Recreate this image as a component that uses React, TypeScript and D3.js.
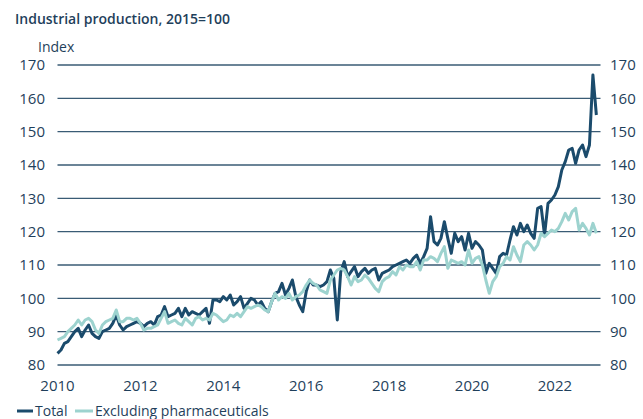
import React from "react";
import * as d3 from "d3";

const title = "Industrial production, 2015=100";
const yAxisLabel = "Index";
const startYear = 2010;
const seriesNames = ["Total", "Excluding pharmaceuticals"];
const yTicks = [80, 90, 100, 110, 120, 130, 140, 150, 160, 170];
const xTicks = [2010, 2012, 2014, 2016, 2018, 2020, 2022];

// Monthly values, Jan 2010 .. Jan 2023
const totalValues = [
  83.5, 84.5, 86.5, 87, 88.5, 90, 91, 88.5, 90.5, 92, 89.5, 88.5,
  88, 90, 90.5, 91, 92.5, 95, 92, 90.5, 91.5, 92, 92.5, 93,
  92.5, 91.5, 92.5, 93, 92, 94.5, 95, 97.5, 94.5, 95, 95.5, 97,
  94.5, 97, 95, 96, 95.5, 95, 96, 97, 92.5, 99.5, 99.5, 99,
  100.5, 99.5, 101, 98, 99, 100.5, 97, 98.5, 100, 99.5, 98, 99,
  97, 96, 99, 101.5, 102, 104.5, 101, 103, 105.5, 100.5, 98, 96,
  102, 105.5, 104, 104, 103.5, 104, 105, 108.5, 106, 93.5, 108, 111,
  106.5, 108, 109.5, 106.5, 108, 109, 107.5, 108.5, 109, 105.5, 107.5, 108,
  108.5, 109.5, 110, 110.5, 111, 111.5, 110.5, 112, 113, 110.5, 112.5, 115,
  124.5, 117, 116, 118, 123, 118, 113.5, 119.5, 117, 118.5, 114.5, 119.5,
  115, 117, 116, 114.5, 107.5, 110.5, 109, 107.5, 112.5, 113.5, 113, 117.5,
  121.5, 119, 122.5, 120, 122, 119.5, 118, 127, 127.5, 119, 128.5, 129.5,
  131, 133.5, 138.5, 141, 144.5, 145, 140.5, 144.5, 146, 142.5, 146, 167,
  155,
];

const exclPharmaValues = [
  87.5, 88, 88.5, 90, 91, 92, 93.5, 92, 93.5, 94, 93, 90.5,
  89.5, 92, 93, 93.5, 94, 96.5, 93, 93, 94, 94, 93.5, 94,
  92.5, 90.5, 91, 91, 91.5, 92, 94, 96, 92.5, 93, 93.5, 92.5,
  92, 94, 93, 92, 94, 94.5, 93.5, 94, 93.5, 95.5, 95, 94,
  93, 93.5, 95, 94.5, 95.5, 94.5, 96, 97.5, 97, 97.5, 98, 97.5,
  96.5, 96, 99, 101.5, 99.5, 100.5, 100, 101.5, 99.5, 100.5, 101, 102,
  104, 105.5, 104.5, 104, 102.5, 102, 101.5, 105.5, 107, 108.5, 109, 108.5,
  106.5, 104, 106.5, 105, 105.5, 107, 106, 104.5, 103, 102, 105, 106,
  106.5, 108, 107, 109.5, 108.5, 110, 109.5, 109.5, 111, 108.5, 111.5, 111.5,
  112.5, 112, 111, 113.5, 115.5, 109, 111.5, 111, 110.5, 111, 110, 114.5,
  110.5, 112, 112.5, 110, 105.5, 101.5, 105, 106.5, 109.5, 110.5, 112.5, 111.5,
  115.5, 113, 111, 116, 117, 116, 114.5, 116, 119.5, 118.5, 119.5, 120.5,
  120, 121, 123, 125.5, 123.5, 126, 127, 120.5, 122.5, 121, 119, 122.5,
  119.5,
];

const W = 643;
const H = 419;
const TEXT = "#1f3f5b";
const DARK = "#1b4b6c";
const LIGHT = "#9dd3cf";
const GRID = "#3a5b75";
const FONT = "'Open Sans', sans-serif";

export default function App() {
  const x = d3.scaleLinear().domain([2010, 2023.1]).range([57.5, 600.5]);
  const y = d3.scaleLinear().domain([80, 170]).range([365, 65]);

  const line = d3
    .line<number>()
    .x((_, i) => x(startYear + i / 12))
    .y((d) => y(d))
    .curve(d3.curveLinear);

  const series = [
    { name: seriesNames[0], values: totalValues, color: DARK },
    { name: seriesNames[1], values: exclPharmaValues, color: LIGHT },
  ];

  return (
    <svg
      width={W}
      height={H}
      style={{ position: "absolute", left: 0, top: 0, background: "#fff" }}
      fontFamily={FONT}
    >
      <text x={15} y={24} fontSize={14} fontWeight={600} fill={TEXT}>
        {title}
      </text>
      <text x={38} y={52} fontSize={14} fill={TEXT}>
        {yAxisLabel}
      </text>
      {yTicks.map((t) => (
        <g key={t}>
          <line
            x1={x.range()[0]}
            x2={x.range()[1]}
            y1={y(t)}
            y2={y(t)}
            stroke={GRID}
            strokeWidth={1.3}
          />
          <text
            x={45}
            y={y(t)}
            dy="0.36em"
            textAnchor="end"
            fontSize={15}
            fill={TEXT}
          >
            {t}
          </text>
          <text x={610} y={y(t)} dy="0.36em" fontSize={15} fill={TEXT}>
            {t}
          </text>
        </g>
      ))}
      {xTicks.map((t) => (
        <text
          key={t}
          x={x(t)}
          y={391}
          textAnchor="middle"
          fontSize={15}
          fill={TEXT}
        >
          {t}
        </text>
      ))}
      {series.map((s) => (
        <path
          key={s.name}
          d={line(s.values) || ""}
          fill="none"
          stroke={s.color}
          strokeWidth={3}
          strokeLinejoin="round"
        />
      ))}
      <g>
        <line x1={17} x2={33} y1={411} y2={411} stroke={DARK} strokeWidth={3} />
        <text x={35} y={416} fontSize={14} fill={TEXT}>
          {seriesNames[0]}
        </text>
        <line x1={75} x2={93} y1={411} y2={411} stroke={LIGHT} strokeWidth={3} />
        <text x={95} y={416} fontSize={14} fill={TEXT}>
          {seriesNames[1]}
        </text>
      </g>
    </svg>
  );
}
